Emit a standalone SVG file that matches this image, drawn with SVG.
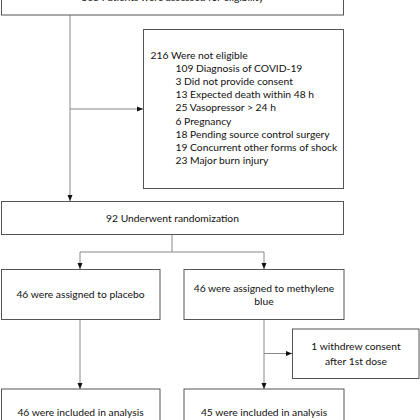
<svg xmlns="http://www.w3.org/2000/svg" width="420" height="420" viewBox="0 0 420 420">
<style>
.box{fill:#fff;stroke:#555;stroke-width:1}
.t{font-family:Lato,"Liberation Sans",sans-serif;font-size:10.3px;fill:#111}
.c{text-anchor:middle}
.ln{fill:none;stroke:#888;stroke-width:1}
</style>
<defs>
<marker id="ah" viewBox="0 0 6 6" refX="6" refY="3" markerWidth="6" markerHeight="6" markerUnits="userSpaceOnUse" orient="auto">
<path d="M0,0.5 L6,3 L0,5.5 Z" fill="#111"/>
</marker>
</defs>
<rect width="420" height="420" fill="#fff"/>
<g id="connectors">
<path class="ln" d="M70,15 V201" marker-end="url(#ah)"/>
<path class="ln" d="M70,109 H143" marker-end="url(#ah)"/>
<path class="ln" d="M172,234.5 V252 M80,252 H264"/>
<path class="ln" d="M80,252 V269" marker-end="url(#ah)"/>
<path class="ln" d="M264,252 V269" marker-end="url(#ah)"/>
<path class="ln" d="M80,319.5 V389" marker-end="url(#ah)"/>
<path class="ln" d="M264,319.5 V389" marker-end="url(#ah)"/>
<path class="ln" d="M264,353.5 H292" marker-end="url(#ah)"/>
</g>
<g id="assessed">
<rect class="box" x="1.5" y="-20" width="342" height="35"/>
<text class="t c" x="172.5" y="0.5">368 Patients were assessed for eligibility</text>
</g>
<g id="not-eligible">
<rect class="box" x="143.5" y="29.5" width="200" height="159"/>
<text class="t" x="150.5" y="58.5">216 Were not eligible</text>
<text class="t" x="175.5" y="71.7">109 Diagnosis of COVID-19</text>
<text class="t" x="175.5" y="84.9">3 Did not provide consent</text>
<text class="t" x="175.5" y="98.1">13 Expected death within 48 h</text>
<text class="t" x="175.5" y="111.3">25 Vasopressor &gt; 24 h</text>
<text class="t" x="175.5" y="124.5">6 Pregnancy</text>
<text class="t" x="175.5" y="137.7">18 Pending source control surgery</text>
<text class="t" x="175.5" y="150.9">19 Concurrent other forms of shock</text>
<text class="t" x="175.5" y="164.1">23 Major burn injury</text>
</g>
<g id="randomization">
<rect class="box" x="1.5" y="201.5" width="342" height="33"/>
<text class="t c" x="172.5" y="221.5">92 Underwent randomization</text>
</g>
<g id="placebo">
<rect class="box" x="1.5" y="269.5" width="158.5" height="50"/>
<text class="t c" x="80.5" y="298">46 were assigned to placebo</text>
</g>
<g id="methylene-blue">
<rect class="box" x="184" y="269.5" width="160" height="50"/>
<text class="t c" x="264" y="292">46 were assigned to methylene</text>
<text class="t c" x="264" y="304.5">blue</text>
</g>
<g id="withdrew">
<rect class="box" x="292.5" y="329" width="126.5" height="49.5"/>
<text class="t c" x="356" y="350">1 withdrew consent</text>
<text class="t c" x="356" y="364.5">after 1st dose</text>
</g>
<g id="placebo-analysis">
<rect class="box" x="1.5" y="389" width="158.5" height="45"/>
<text class="t c" x="80.5" y="416">46 were included in analysis</text>
</g>
<g id="mb-analysis">
<rect class="box" x="184" y="389" width="160" height="45"/>
<text class="t c" x="264" y="416">45 were included in analysis</text>
</g>
</svg>
